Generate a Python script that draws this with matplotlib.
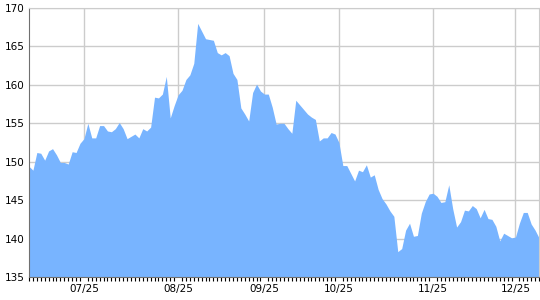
import numpy as np
import matplotlib
matplotlib.use('Agg')
from matplotlib import pyplot as plt
from matplotlib.ticker import MultipleLocator

# closing prices, one per trading day
prices = [149.4, 148.9, 151.2, 151.1, 150.2, 151.4, 151.7, 150.9, 149.9, 149.9,
          149.7, 151.3, 151.2, 152.4, 153.0, 155.0, 153.1, 153.1, 154.7, 154.7,
          154.0, 153.9, 154.3, 155.1, 154.3, 153.0, 153.3, 153.6, 153.1, 154.3,
          154.0, 154.5, 158.4, 158.3, 158.8, 161.1, 155.7, 157.3, 158.7,
          159.3, 160.7, 161.3, 162.8, 168.0, 167.0, 166.0, 165.9, 165.8, 164.2,
          163.9, 164.2, 163.8, 161.5, 160.7, 157.0, 156.2, 155.3, 159.0, 160.1,
          159.2, 158.8, 158.8, 157.1, 154.9, 155.0, 155.0, 154.3, 153.7, 158.0,
          157.4, 156.8, 156.2, 155.8, 155.5, 152.7, 153.1, 153.1, 153.8, 153.6,
          152.5, 149.5, 149.5, 148.5, 147.5, 148.9, 148.7, 149.6, 148.0, 148.3,
          146.4, 145.2, 144.5, 143.6, 142.9, 138.3, 138.7, 141.1, 142.0, 140.3,
          140.4, 143.3, 144.8, 145.8, 145.9, 145.5, 144.7, 144.8, 147.0, 143.9,
          141.5, 142.2, 143.7, 143.6, 144.3, 143.9, 142.7, 143.8, 142.6, 142.5,
          141.6, 139.7, 140.7, 140.4, 140.1, 140.2, 142.0, 143.4, 143.4, 141.9,
          141.1, 140.1]

# trading-day index of each month label
label_pos = [14, 38, 60, 79, 103, 124]
label_text = ['07/25', '08/25', '09/25', '10/25', '11/25', '12/25']

days = np.arange(len(prices))

fig = plt.figure(figsize=(5.4, 3.0), dpi=100)
ax = fig.add_axes([29/540, 23/300, 510/540, 269/300])

ax.fill_between(days, 135, prices, color='#78b4ff', lw=0, zorder=2)

ax.set_xlim(0, len(prices) - 1)
ax.set_ylim(135, 170)
ax.yaxis.set_major_locator(MultipleLocator(5))
ax.set_xticks(label_pos)
ax.set_xticklabels(label_text)
ax.xaxis.set_minor_locator(MultipleLocator(1))

ax.grid(True, color='#cccccc', lw=1, zorder=1)
ax.set_axisbelow(True)

ax.tick_params(axis='x', which='major', length=0, pad=5, labelsize=7.5)
ax.tick_params(axis='x', which='minor', length=3, width=0.8, color='black', direction='out')
ax.tick_params(axis='y', length=0, pad=3, labelsize=7.5)

for s in ['top', 'right']:
    ax.spines[s].set_color('#cccccc')
ax.spines['left'].set_color('#707070')
ax.spines['bottom'].set_color('#707070')

fig.savefig('out.png', dpi=100)
